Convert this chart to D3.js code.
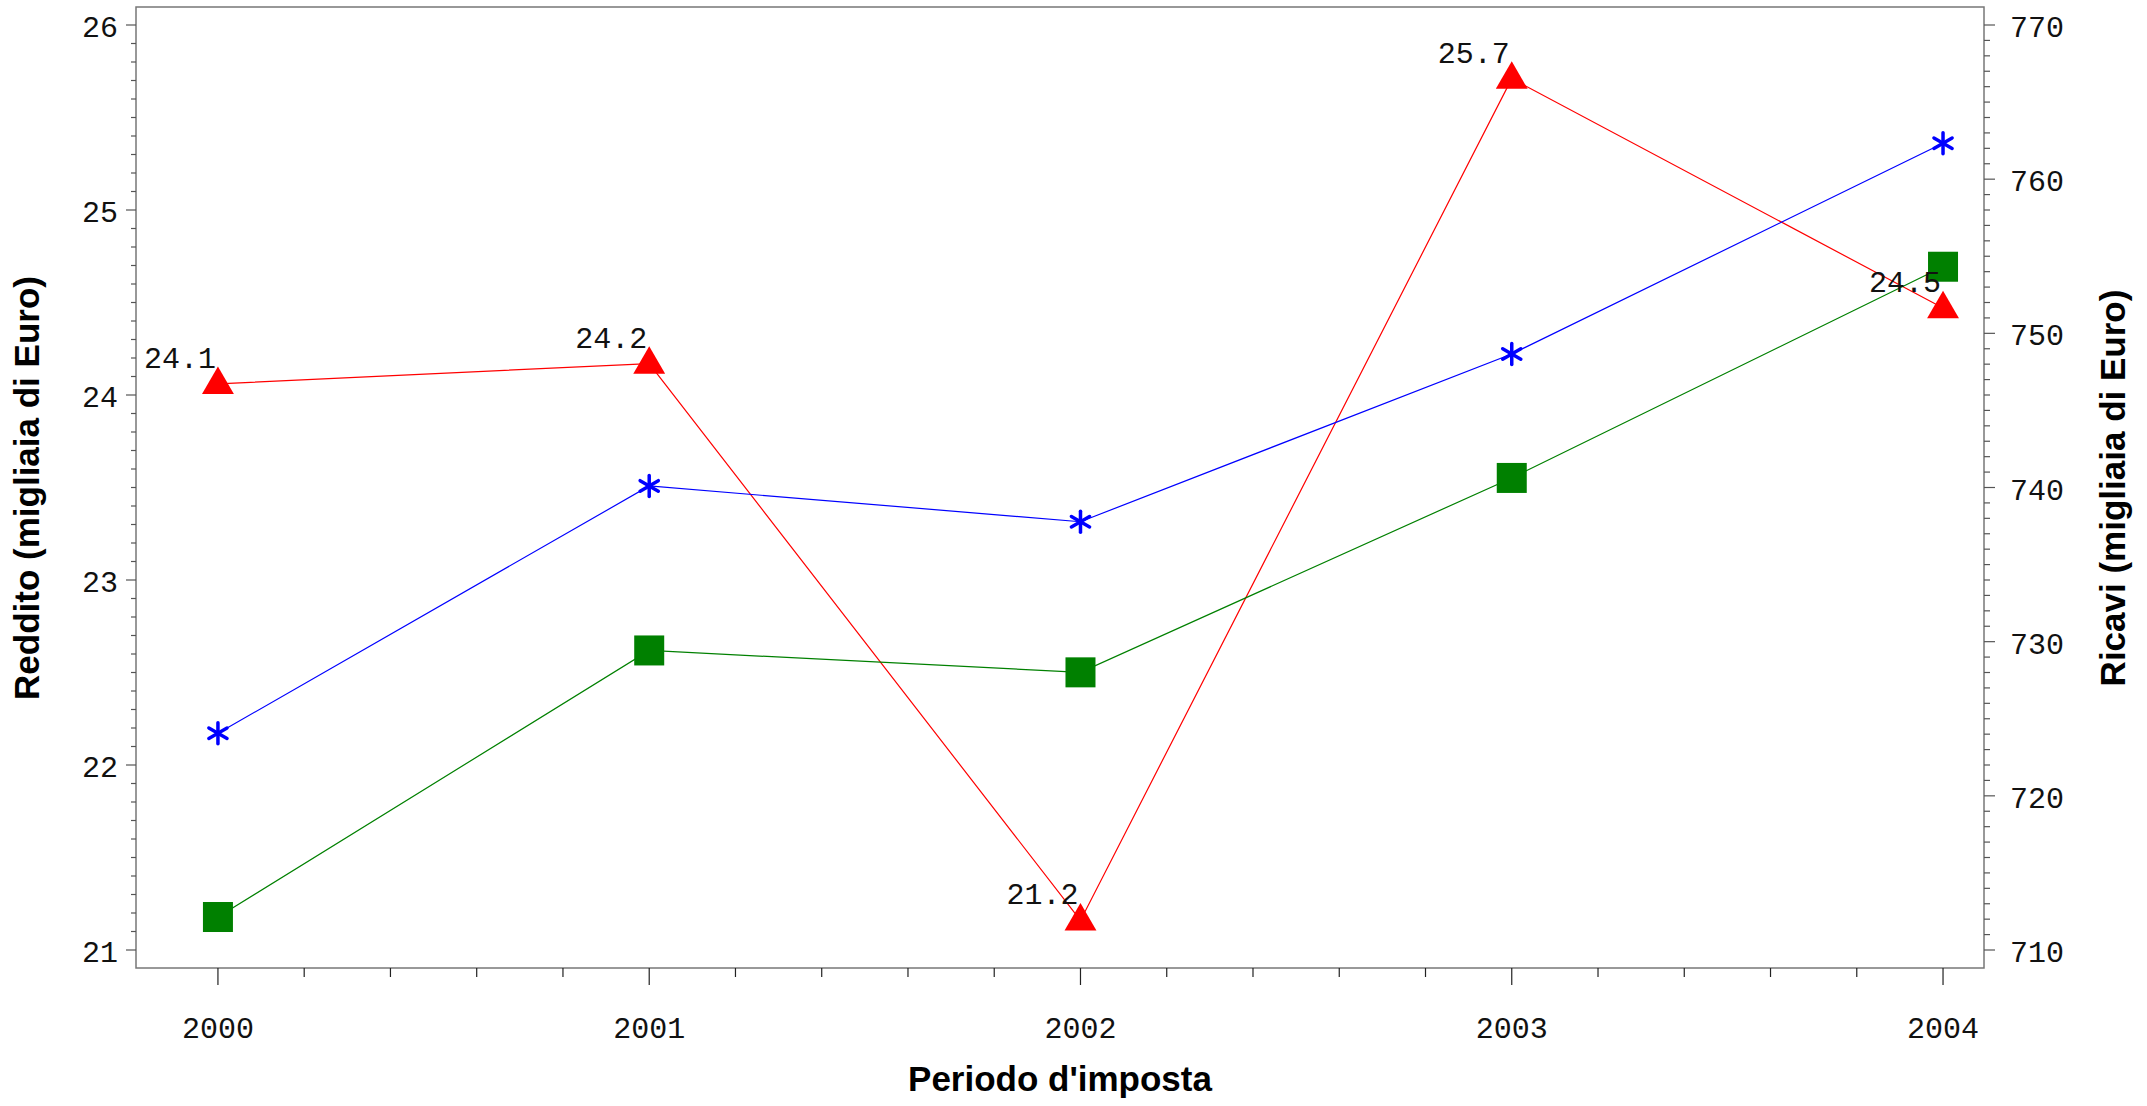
<!DOCTYPE html>
<html>
<head>
<meta charset="utf-8">
<script src="https://cdn.jsdelivr.net/npm/d3@7/dist/d3.min.js"></script>
<style>
  html, body { margin: 0; padding: 0; background: #fff; }
  svg { display: block; }
</style>
</head>
<body>
<svg id="chart" width="2147" height="1106"></svg>
<script>
// ---- data ----
const years = [2000, 2001, 2002, 2003, 2004];
const reddito = [24.06, 24.17, 21.16, 25.71, 24.47];        // left axis, red triangles (labelled)
const ricaviA = [724.06, 740.10, 737.78, 748.66, 762.33];   // right axis, blue stars
const ricaviB = [712.14, 729.43, 728.01, 740.62, 754.32];   // right axis, green squares
const leftTicks = [21, 22, 23, 24, 25, 26];
const rightTicks = [710, 720, 730, 740, 750, 760, 770];
const xTitle = "Periodo d'imposta";
const yLeftTitle = "Reddito (migliaia di Euro)";
const yRightTitle = "Ricavi (migliaia di Euro)";

// ---- layout ----
const svg = d3.select("#chart");
const L = 136, R = 1984, T = 7, B = 968;

const x = d3.scaleLinear().domain([1999.81, 2004.095]).range([L, R]);
const yL = d3.scaleLinear().domain([21, 26]).range([950, 25]);
const yR = d3.scaleLinear().domain([710, 770]).range([950, 25]);

const monoFont = "'Liberation Mono', 'Courier New', monospace";
const sansFont = "'Liberation Sans', Arial, sans-serif";
const axisColor = "#555";

// frame
svg.append("rect").attr("x", L).attr("y", T).attr("width", R - L).attr("height", B - T)
  .attr("fill", "none").attr("stroke", "#777").attr("stroke-width", 1.5);

// left axis
const gL = svg.append("g").attr("transform", `translate(${L},0)`);
const minorL = d3.range(210, 261).map(d => d / 10).filter(d => d % 1 !== 0);
gL.selectAll("line.minor").data(minorL).join("line")
  .attr("x1", -5).attr("x2", 0).attr("y1", d => yL(d)).attr("y2", d => yL(d))
  .attr("stroke", axisColor).attr("stroke-width", 1.2);
gL.selectAll("line.major").data(leftTicks).join("line")
  .attr("x1", -10).attr("x2", 0).attr("y1", d => yL(d)).attr("y2", d => yL(d))
  .attr("stroke", axisColor).attr("stroke-width", 1.2);
gL.selectAll("text").data(leftTicks).join("text")
  .attr("x", -18).attr("y", d => yL(d) + 12)
  .attr("text-anchor", "end").attr("font-family", monoFont).attr("font-size", 30)
  .attr("fill", "#111").text(d => d);

// right axis
const gR = svg.append("g").attr("transform", `translate(${R},0)`);
const minorR = d3.range(710, 771).filter(d => d % 10 !== 0);
gR.selectAll("line.minor").data(minorR).join("line")
  .attr("x1", 0).attr("x2", 6).attr("y1", d => yR(d)).attr("y2", d => yR(d))
  .attr("stroke", axisColor).attr("stroke-width", 1.2);
gR.selectAll("line.major").data(rightTicks).join("line")
  .attr("x1", 0).attr("x2", 11).attr("y1", d => yR(d)).attr("y2", d => yR(d))
  .attr("stroke", axisColor).attr("stroke-width", 1.2);
gR.selectAll("text").data(rightTicks).join("text")
  .attr("x", 26).attr("y", d => yR(d) + 12)
  .attr("text-anchor", "start").attr("font-family", monoFont).attr("font-size", 30)
  .attr("fill", "#111").text(d => d);

// bottom axis
const gB = svg.append("g").attr("transform", `translate(0,${B})`);
const minorB = d3.range(0, 21).map(i => 2000 + i * 0.2).filter((d, i) => i % 5 !== 0);
gB.selectAll("line.minor").data(minorB).join("line")
  .attr("x1", d => x(d)).attr("x2", d => x(d)).attr("y1", 0).attr("y2", 9)
  .attr("stroke", "#222").attr("stroke-width", 1.2);
gB.selectAll("line.major").data(years).join("line")
  .attr("x1", d => x(d)).attr("x2", d => x(d)).attr("y1", 0).attr("y2", 17)
  .attr("stroke", "#222").attr("stroke-width", 1.2);
gB.selectAll("text").data(years).join("text")
  .attr("x", d => x(d)).attr("y", 70)
  .attr("text-anchor", "middle").attr("font-family", monoFont).attr("font-size", 30)
  .attr("fill", "#111").text(d => d);

// axis titles
svg.append("text").attr("x", (L + R) / 2).attr("y", 1091)
  .attr("text-anchor", "middle").attr("font-family", sansFont).attr("font-weight", "bold")
  .attr("font-size", 35).attr("fill", "#000").text(xTitle);
svg.append("text").attr("transform", "translate(39,488) rotate(-90)")
  .attr("text-anchor", "middle").attr("font-family", sansFont).attr("font-weight", "bold")
  .attr("font-size", 35).attr("fill", "#000").text(yLeftTitle);
svg.append("text").attr("transform", "translate(2125,488) rotate(-90)")
  .attr("text-anchor", "middle").attr("font-family", sansFont).attr("font-weight", "bold")
  .attr("font-size", 35).attr("fill", "#000").text(yRightTitle);

// lines
function drawLine(vals, yScale, color) {
  const line = d3.line().x((d, i) => x(years[i])).y(d => yScale(d));
  svg.append("path").datum(vals).attr("d", line)
    .attr("fill", "none").attr("stroke", color).attr("stroke-width", 1.2);
}
drawLine(reddito, yL, "#ff0000");
drawLine(ricaviA, yR, "#0000ff");
drawLine(ricaviB, yR, "#008000");

// markers: red triangles
const tri = d3.symbol().type(d3.symbolTriangle).size(440);
svg.selectAll("path.tri").data(reddito).join("path")
  .attr("class", "tri")
  .attr("transform", (d, i) => `translate(${x(years[i])},${yL(d) + 1})`)
  .attr("d", tri).attr("fill", "#ff0000");

// blue stars (asterisks)
const starG = svg.selectAll("g.star").data(ricaviA).join("g")
  .attr("class", "star")
  .attr("transform", (d, i) => `translate(${x(years[i])},${yR(d)})`);
[90, 30, 150].forEach(a => {
  const r = 10.5, rad = a * Math.PI / 180;
  starG.append("line")
    .attr("x1", -r * Math.cos(rad)).attr("y1", -r * Math.sin(rad))
    .attr("x2", r * Math.cos(rad)).attr("y2", r * Math.sin(rad))
    .attr("stroke", "#0000ff").attr("stroke-width", 3.5).attr("stroke-linecap", "round");
});

// green squares
svg.selectAll("rect.sq").data(ricaviB).join("rect")
  .attr("class", "sq")
  .attr("x", (d, i) => x(years[i]) - 15).attr("y", d => yR(d) - 15)
  .attr("width", 30).attr("height", 30).attr("fill", "#008000");

// value labels for reddito
const fmt = d3.format(".1f");
svg.selectAll("text.lab").data(reddito).join("text")
  .attr("class", "lab")
  .attr("x", (d, i) => x(years[i]) - 2).attr("y", d => yL(d) - 16)
  .attr("text-anchor", "end").attr("font-family", monoFont).attr("font-size", 30)
  .attr("fill", "#111").text(d => fmt(d));
</script>
</body>
</html>
